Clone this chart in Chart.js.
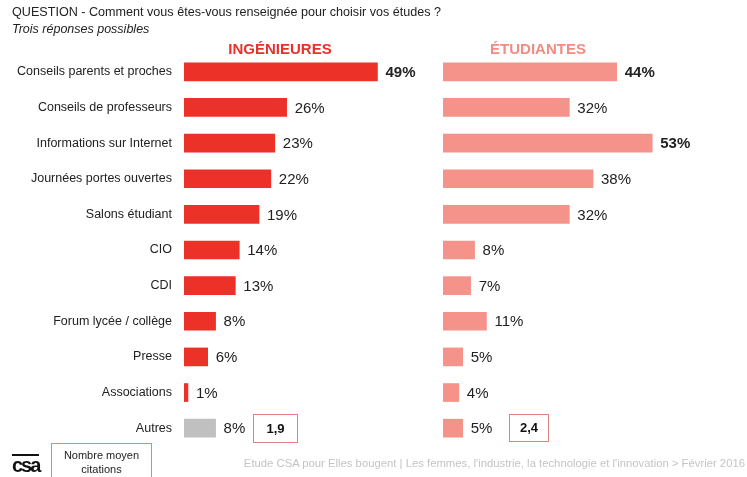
<!DOCTYPE html>
<html lang="fr">
<head>
<meta charset="UTF-8">
<title>Renseignement pour choisir ses études</title>
<script src="https://cdn.jsdelivr.net/npm/chart.js"></script>
<style>
    body { margin: 0; background: #fff; font-family: "Liberation Sans", Arial, sans-serif; }
    #wrap { position: relative; width: 747px; height: 477px; overflow: hidden; }
    #chart { position: absolute; left: 0; top: 0; }
    .txt { position: absolute; white-space: nowrap; color: #222; }
    .head { font-weight: bold; font-size: 15px; line-height: 16px; top: 41px; transform: translateX(-50%); }
    .box { position: absolute; border: 1px solid #e58080; box-sizing: border-box; text-align: center; color: #111; }
</style>
</head>
<body>
<div id="wrap">
    <canvas id="chart" width="747" height="477"></canvas>

    <div class="txt" style="left:12px; top:5px; font-size:12.6px;">QUESTION - Comment vous êtes-vous renseignée pour choisir vos études ?</div>
    <div class="txt" style="left:12px; top:22px; font-size:12.5px; font-style:italic;">Trois réponses possibles</div>

    <div class="txt head" style="left:280px; color:#e8312a;">INGÉNIEURES</div>
    <div class="txt head" style="left:538px; color:#f28b82;">ÉTUDIANTES</div>

    <div class="box" style="left:253px; top:414px; width:45px; height:29px; font:bold 13px/27px 'Liberation Sans', Arial, sans-serif;">1,9</div>
    <div class="box" style="left:509px; top:414px; width:40px; height:28px; font:bold 13px/26px 'Liberation Sans', Arial, sans-serif;">2,4</div>

    <div class="box" style="left:51px; top:443px; width:101px; height:40px; font-size:11px; line-height:14px; padding-top:4px; color:#222;">Nombre moyen<br>citations</div>

    <div class="txt" style="left:12px; top:454px; font:bold 20px/17px 'Liberation Sans', Arial, sans-serif; letter-spacing:-2px; border-top:2px solid #111; padding-top:1px; color:#111;">csa</div>

    <div class="txt" style="right:2px; top:457px; font-size:11.3px; color:#c4c4c4;">Etude CSA pour Elles bougent | Les femmes, l'industrie, la technologie et l'innovation &gt; Février 2016</div>
</div>

<script>
    const categories = ['Conseils parents et proches', 'Conseils de professeurs', 'Informations sur Internet',
        'Journées portes ouvertes', 'Salons étudiant', 'CIO', 'CDI', 'Forum lycée / collège', 'Presse',
        'Associations', 'Autres'];
    const ingenieures = [49, 26, 23, 22, 19, 14, 13, 8, 6, 1, 8];
    const etudiantes = [44, 32, 53, 38, 32, 8, 7, 11, 5, 4, 5];
    // which value labels are printed in bold
    const boldIng = [0];
    const boldEtud = [0, 2];

    const RED = '#ec3228';
    const SALMON = '#f5938a';
    const GREY = '#c0c0c0';
    const FONT = "'Liberation Sans', Arial, sans-serif";

    // value labels at the end of each bar
    const valueLabels = {
        id: 'valueLabels',
        afterDatasetsDraw(chart) {
            const ctx = chart.ctx;
            ctx.save();
            ctx.textBaseline = 'middle';
            ctx.textAlign = 'left';
            ctx.fillStyle = '#222';
            chart.data.datasets.forEach((ds, di) => {
                const meta = chart.getDatasetMeta(di);
                const bold = di === 0 ? boldIng : boldEtud;
                meta.data.forEach((bar, i) => {
                    ctx.font = (bold.includes(i) ? 'bold ' : '') + '15px ' + FONT;
                    ctx.fillText(ds.data[i] + '%', bar.x + 8, bar.y + 1);
                });
            });
            ctx.restore();
        }
    };

    new Chart(document.getElementById('chart'), {
        type: 'bar',
        data: {
            labels: categories,
            datasets: [{
                label: 'Ingénieures',
                data: ingenieures,
                xAxisID: 'x1',
                grouped: false,
                barThickness: 18,
                backgroundColor: (c) => c.dataIndex === categories.length - 1 ? GREY : RED
            }, {
                label: 'Étudiantes',
                data: etudiantes,
                xAxisID: 'x2',
                grouped: false,
                barThickness: 18,
                backgroundColor: SALMON
            }]
        },
        options: {
            indexAxis: 'y',
            responsive: false,
            animation: false,
            layout: { padding: { left: 0, right: 45, top: 54, bottom: 31 } },
            plugins: { legend: { display: false }, tooltip: { enabled: false } },
            scales: {
                y: {
                    grid: { display: false, drawTicks: false },
                    border: { display: false },
                    ticks: { color: '#222', padding: 12, font: { size: 12.5, family: FONT } },
                    afterFit(scale) { scale.width = 184; }
                },
                x1: {
                    type: 'linear', position: 'bottom', stack: 'cols', stackWeight: 1,
                    min: 0, max: 65.6, display: false
                },
                x2: {
                    type: 'linear', position: 'bottom', stack: 'cols', stackWeight: 1,
                    min: 0, max: 65.6, display: false
                }
            }
        },
        plugins: [valueLabels]
    });
</script>
</body>
</html>
